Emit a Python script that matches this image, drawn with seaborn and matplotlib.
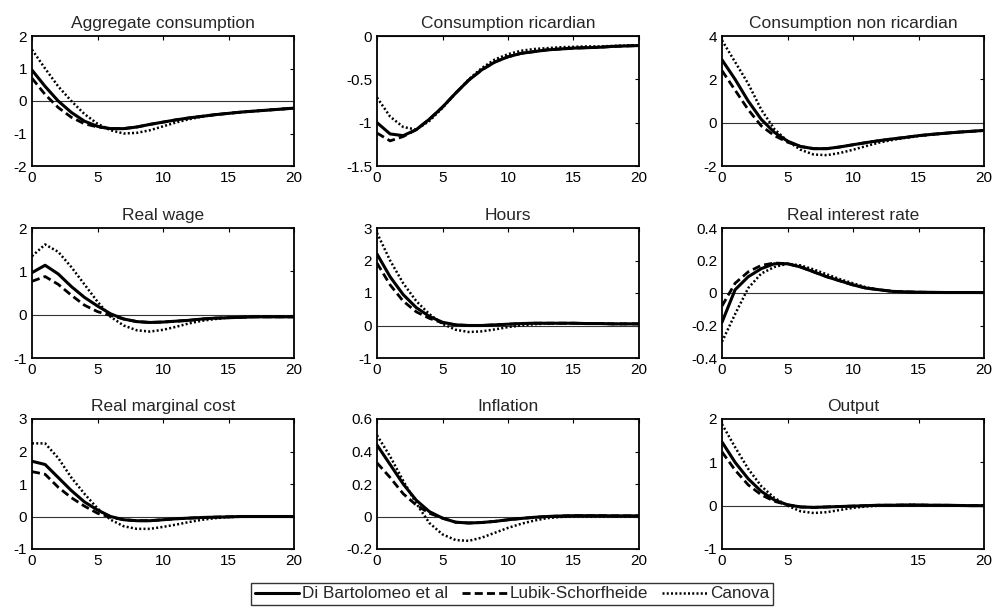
import numpy as np
import pandas as pd
import matplotlib
matplotlib.use("Agg")
import matplotlib.pyplot as plt
from matplotlib.ticker import FuncFormatter, FixedLocator
import seaborn as sns

# ---------------- data ----------------
t = list(range(21))
series_names = ["Di Bartolomeo et al", "Lubik-Schorfheide", "Canova"]
titles = ["Aggregate consumption", "Consumption ricardian", "Consumption non ricardian",
          "Real wage", "Hours", "Real interest rate",
          "Real marginal cost", "Inflation", "Output"]

# Aggregate consumption
agg_db = [0.95, 0.45, 0.0, -0.35, -0.62, -0.78, -0.85, -0.85, -0.80, -0.72, -0.65, -0.58, -0.52, -0.47, -0.42, -0.38, -0.34, -0.31, -0.28, -0.25, -0.22]
agg_ls = [0.70, 0.20, -0.20, -0.50, -0.70, -0.80, -0.85, -0.85, -0.80, -0.72, -0.65, -0.58, -0.52, -0.47, -0.42, -0.38, -0.34, -0.31, -0.28, -0.25, -0.22]
agg_ca = [1.58, 1.00, 0.45, 0.0, -0.40, -0.70, -0.90, -1.00, -0.98, -0.90, -0.78, -0.66, -0.56, -0.48, -0.42, -0.38, -0.34, -0.31, -0.28, -0.25, -0.22]

# Consumption ricardian
cr_db = [-1.00, -1.13, -1.15, -1.08, -0.96, -0.82, -0.66, -0.51, -0.39, -0.30, -0.24, -0.20, -0.18, -0.16, -0.15, -0.14, -0.135, -0.13, -0.12, -0.115, -0.11]
cr_ls = [-1.12, -1.21, -1.16, -1.08, -0.96, -0.82, -0.66, -0.51, -0.39, -0.30, -0.24, -0.20, -0.18, -0.16, -0.15, -0.14, -0.135, -0.13, -0.12, -0.115, -0.11]
cr_ca = [-0.71, -0.93, -1.05, -1.08, -0.98, -0.83, -0.66, -0.50, -0.37, -0.27, -0.21, -0.17, -0.15, -0.14, -0.13, -0.125, -0.12, -0.12, -0.115, -0.11, -0.11]

# Consumption non ricardian
cn_db = [2.90, 2.00, 1.00, 0.15, -0.45, -0.85, -1.10, -1.20, -1.20, -1.12, -1.02, -0.92, -0.83, -0.75, -0.68, -0.60, -0.54, -0.49, -0.44, -0.40, -0.36]
cn_ls = [2.40, 1.50, 0.60, -0.15, -0.60, -0.90, -1.10, -1.20, -1.20, -1.12, -1.02, -0.92, -0.83, -0.75, -0.68, -0.60, -0.54, -0.49, -0.44, -0.40, -0.36]
cn_ca = [3.80, 2.80, 1.80, 0.60, -0.30, -0.85, -1.25, -1.47, -1.50, -1.40, -1.25, -1.08, -0.92, -0.80, -0.70, -0.62, -0.55, -0.49, -0.44, -0.40, -0.36]

# Real wage
rw_db = [0.97, 1.14, 0.94, 0.65, 0.40, 0.20, 0.02, -0.10, -0.16, -0.18, -0.17, -0.15, -0.13, -0.10, -0.08, -0.07, -0.06, -0.05, -0.05, -0.05, -0.05]
rw_ls = [0.77, 0.88, 0.70, 0.45, 0.22, 0.07, -0.02, -0.10, -0.16, -0.18, -0.17, -0.15, -0.13, -0.10, -0.08, -0.07, -0.06, -0.05, -0.05, -0.05, -0.05]
rw_ca = [1.35, 1.62, 1.45, 1.10, 0.70, 0.30, -0.05, -0.25, -0.36, -0.39, -0.35, -0.28, -0.20, -0.14, -0.10, -0.07, -0.06, -0.05, -0.05, -0.05, -0.05]

# Hours
h_db = [2.20, 1.50, 0.95, 0.55, 0.28, 0.10, 0.02, 0.0, 0.0, 0.02, 0.04, 0.06, 0.07, 0.07, 0.07, 0.07, 0.06, 0.06, 0.05, 0.05, 0.05]
h_ls = [1.92, 1.25, 0.75, 0.42, 0.22, 0.08, 0.02, 0.0, 0.0, 0.02, 0.04, 0.06, 0.07, 0.07, 0.07, 0.07, 0.06, 0.06, 0.05, 0.05, 0.05]
h_ca = [2.85, 2.00, 1.30, 0.75, 0.35, 0.05, -0.13, -0.20, -0.18, -0.12, -0.05, 0.0, 0.04, 0.06, 0.07, 0.07, 0.06, 0.06, 0.05, 0.05, 0.05]

# Real interest rate
ri_db = [-0.18, 0.02, 0.10, 0.15, 0.18, 0.18, 0.16, 0.13, 0.10, 0.075, 0.05, 0.03, 0.02, 0.01, 0.007, 0.005, 0.004, 0.003, 0.003, 0.003, 0.003]
ri_ls = [-0.08, 0.06, 0.13, 0.17, 0.185, 0.18, 0.16, 0.13, 0.10, 0.075, 0.05, 0.03, 0.02, 0.01, 0.007, 0.005, 0.004, 0.003, 0.003, 0.003, 0.003]
ri_ca = [-0.30, -0.13, 0.03, 0.12, 0.16, 0.18, 0.17, 0.145, 0.115, 0.085, 0.06, 0.035, 0.02, 0.01, 0.006, 0.004, 0.003, 0.003, 0.003, 0.003, 0.003]

# Real marginal cost
mc_db = [1.70, 1.60, 1.20, 0.80, 0.45, 0.20, 0.0, -0.10, -0.13, -0.13, -0.10, -0.07, -0.05, -0.03, -0.02, -0.01, 0.0, 0.0, 0.0, 0.0, 0.0]
mc_ls = [1.38, 1.30, 0.90, 0.58, 0.32, 0.10, -0.02, -0.10, -0.13, -0.13, -0.10, -0.07, -0.05, -0.03, -0.02, -0.01, 0.0, 0.0, 0.0, 0.0, 0.0]
mc_ca = [2.25, 2.25, 1.80, 1.20, 0.70, 0.25, -0.10, -0.30, -0.38, -0.38, -0.32, -0.25, -0.17, -0.10, -0.05, -0.02, 0.0, 0.0, 0.0, 0.0, 0.0]

# Inflation
pi_db = [0.44, 0.32, 0.20, 0.10, 0.03, -0.01, -0.035, -0.04, -0.037, -0.03, -0.02, -0.012, -0.005, 0.0, 0.003, 0.005, 0.005, 0.005, 0.004, 0.004, 0.004]
pi_ls = [0.33, 0.24, 0.14, 0.07, 0.02, -0.01, -0.035, -0.04, -0.037, -0.03, -0.02, -0.012, -0.005, 0.0, 0.003, 0.005, 0.005, 0.005, 0.004, 0.004, 0.004]
pi_ca = [0.50, 0.37, 0.22, 0.08, -0.04, -0.11, -0.145, -0.15, -0.13, -0.10, -0.07, -0.045, -0.025, -0.01, -0.003, 0.0, 0.0, 0.0, 0.0, 0.0, 0.0]

# Output
y_db = [1.47, 1.00, 0.62, 0.33, 0.13, 0.02, -0.03, -0.04, -0.03, -0.02, -0.01, 0.0, 0.01, 0.01, 0.015, 0.015, 0.01, 0.01, 0.005, 0.0, 0.0]
y_ls = [1.24, 0.82, 0.48, 0.25, 0.10, 0.02, -0.03, -0.04, -0.03, -0.02, -0.01, 0.0, 0.01, 0.01, 0.015, 0.015, 0.01, 0.01, 0.005, 0.0, 0.0]
y_ca = [1.88, 1.35, 0.85, 0.45, 0.18, 0.0, -0.13, -0.17, -0.15, -0.10, -0.05, -0.02, 0.0, 0.01, 0.015, 0.015, 0.01, 0.01, 0.005, 0.0, 0.0]

panel_data = [(agg_db, agg_ls, agg_ca), (cr_db, cr_ls, cr_ca), (cn_db, cn_ls, cn_ca),
              (rw_db, rw_ls, rw_ca), (h_db, h_ls, h_ca), (ri_db, ri_ls, ri_ca),
              (mc_db, mc_ls, mc_ca), (pi_db, pi_ls, pi_ca), (y_db, y_ls, y_ca)]

y_limits = [(-2, 2), (-1.5, 0), (-2, 4), (-1, 2), (-1, 3), (-0.4, 0.4), (-1, 3), (-0.2, 0.6), (-1, 2)]
y_ticks = [[-2, -1, 0, 1, 2], [-1.5, -1, -0.5, 0], [-2, 0, 2, 4], [-1, 0, 1, 2],
           [-1, 0, 1, 2, 3], [-0.4, -0.2, 0, 0.2, 0.4], [-1, 0, 1, 2, 3],
           [-0.2, 0, 0.2, 0.4, 0.6], [-1, 0, 1, 2]]
x_ticks = [[0, 5, 10, 15, 20]] * 8 + [[0, 5, 15, 20]]

# ---------------- style ----------------
sns.set_style("white")
plt.rcParams["font.family"] = ["Liberation Sans", "DejaVu Sans"]

W, H = 994, 607
fig = plt.figure(figsize=(W / 100, H / 100), dpi=100)

col_left = [32, 377, 722]
row_top = [36, 228, 419]
ax_w, ax_h = 262, 130

styles = [dict(linestyle="-", linewidth=2.2),
          dict(linestyle=(0, (2.9, 1.5)), linewidth=2.0),
          dict(linestyle=(0, (0.8, 0.9)), linewidth=1.8)]

fmt = FuncFormatter(lambda v, p: ("%g" % v) if abs(v) > 1e-12 else "0")

legend_handles = None
for i in range(9):
    r, c = divmod(i, 3)
    ax = fig.add_axes([col_left[c] / W, 1 - (row_top[r] + ax_h) / H, ax_w / W, ax_h / H])
    ax.axhline(0, color="#333333", linewidth=0.8, zorder=1)
    for k, (vals, name) in enumerate(zip(panel_data[i], series_names)):
        df = pd.DataFrame({"t": t, "v": vals})
        sns.lineplot(data=df, x="t", y="v", ax=ax, color="black", label=name,
                     legend=False, zorder=3, **styles[k])
    ax.set_xlim(0, 20)
    ax.set_ylim(*y_limits[i])
    ax.xaxis.set_major_locator(FixedLocator(x_ticks[i]))
    ax.yaxis.set_major_locator(FixedLocator(y_ticks[i]))
    ax.xaxis.set_major_formatter(fmt)
    ax.yaxis.set_major_formatter(fmt)
    ax.set_xlabel("")
    ax.set_ylabel("")
    ax.set_title(titles[i], fontsize=12.5, pad=6)
    ax.tick_params(direction="in", length=3, width=0.8, labelsize=11, top=True, right=True,
                   colors="black", pad=3.5)
    for s in ax.spines.values():
        s.set_visible(True)
        s.set_color("black")
        s.set_linewidth(1.3)
    if legend_handles is None:
        legend_handles = ax.get_legend_handles_labels()

h, l = legend_handles
leg = fig.legend(h, l, loc="center", bbox_to_anchor=(512 / W, 1 - 594 / H), ncol=3,
                 frameon=True, fancybox=False, edgecolor="black", fontsize=12.3,
                 handlelength=2.6, handletextpad=0.2, columnspacing=0.8,
                 borderpad=0.2, borderaxespad=0)
leg.get_frame().set_linewidth(1.0)

fig.savefig("out.png", dpi=100)
